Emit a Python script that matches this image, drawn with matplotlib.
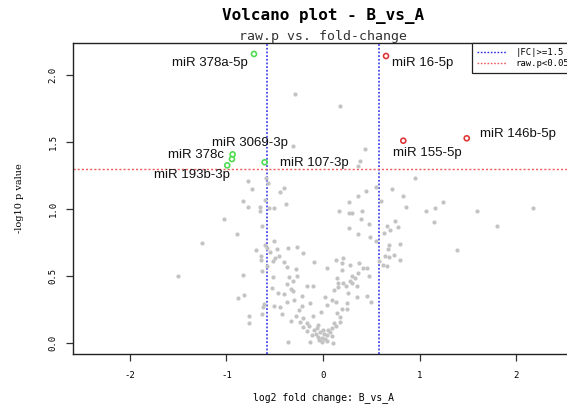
import numpy as np
import matplotlib
matplotlib.use('Agg')
import matplotlib.pyplot as plt
from matplotlib.lines import Line2D

fc_cut = 1.5
p_cut = 0.05

# miRNAs passing both cut-offs
mirnas = ["miR 378a-5p", "miR 16-5p", "miR 146b-5p", "miR 155-5p",
          "miR 3069-3p", "miR 378c", "miR 193b-3p", "miR 107-3p"]
sig_log2fc = [-0.715, 0.653, 1.489, 0.832, -0.936, -0.943, -0.992, -0.604]
sig_logp = [2.157, 2.142, 1.528, 1.510, 1.408, 1.373, 1.326, 1.349]

# remaining miRNAs
log2fc = [-0.29, 0.18, -0.31, 0.435, 0.383, 0.363, 0.953, 0.549, 0.446, 0.358,
          0.269, 0.596, 0.718, 0.824, 0.86, 1.062, 1.16, 1.24, 1.15, 1.593,
          1.803, 2.173, 1.392, 0.169, 0.273, 0.304, 0.407, 0.394, 0.266, 0.472,
          0.36, 0.484, 0.552, 0.66, 0.694, 0.751, 0.78, 0.635, 0.798, 0.684,
          0.677, 0.736, 0.642, 0.679, 0.798, 0.585, 0.625, 0.66,
          -0.774, -0.738, -0.826, -0.772, -0.656, -0.648, -0.596, -0.567, -0.59, -0.448,
          -0.399, -0.383, -0.508, -0.563, -1.029, -0.894, -0.635, -1.254, -0.697, -0.642,
          -0.642, -0.596, -0.575, -0.506, -0.472, -0.36, -0.272, -0.209, -0.549, -0.497,
          -0.513, -0.404, -0.459, -0.583, -0.629, -0.376, -0.098, 0.132, 0.21, 0.376,
          0.28, 0.194, -1.503, -0.826, -0.521, -0.283, -0.349, -0.273, -0.308, -0.376,
          -0.328, -0.525, -0.463, -0.404, -0.308, -0.221, -0.163, -0.107, -0.373, -0.297,
          -0.218, -0.135, -0.252, -0.28, -0.21, -0.169, -0.142, -0.101, -0.335, -0.428,
          -0.446, -0.608, -0.619, -0.505, -0.878, -0.816, -0.635, -0.77, -0.77, -0.36,
          -0.135, -0.073, -0.049, -0.013, 0.021, 0.038, 0.073, 0.09, 0.107, 0.117,
          0.142, 0.176, 0.194, 0.246, 0.252, 0.262, 0.238, 0.297, 0.355, 0.349,
          0.453, 0.497, 0.332, 0.297, 0.366, 0.418, 0.459, 0.48, 0.142, 0.159,
          0.21, 0.152, 0.117, 0.09, 0.135, 0.038, 0.194, 0.28, 0.021, 0.038,
          -0.024, -0.049, 0.003, -0.093, -0.062, -0.031, 0.01, 0.052, -0.01, -0.041,
          0.041, -0.114, -0.166, -0.207, -0.238, 0.093, 0.135, 0.176]
logp = [1.856, 1.766, 1.47, 1.45, 1.36, 1.32, 1.235, 1.164, 1.134, 1.10,
        1.05, 1.062, 1.147, 1.10, 1.017, 0.987, 1.005, 1.054, 0.905, 0.987,
        0.873, 1.005, 0.692, 0.983, 0.972, 0.968, 0.983, 0.923, 0.862, 0.886,
        0.817, 0.79, 0.761, 0.877, 0.846, 0.913, 0.864, 0.823, 0.739, 0.731,
        0.70, 0.657, 0.647, 0.64, 0.622, 0.612, 0.584, 0.577,
        1.209, 1.146, 1.063, 1.017, 1.016, 0.985, 1.071, 1.192, 1.228, 1.128,
        1.16, 1.035, 1.005, 1.005, 0.925, 0.817, 0.873, 0.746, 0.692, 0.649,
        0.616, 0.728, 0.709, 0.761, 0.701, 0.707, 0.715, 0.669, 0.677, 0.637,
        0.61, 0.601, 0.649, 0.575, 0.54, 0.569, 0.601, 0.619, 0.632, 0.595,
        0.582, 0.599, 0.50, 0.505, 0.49, 0.55, 0.49, 0.50, 0.465, 0.44,
        0.40, 0.408, 0.375, 0.366, 0.388, 0.351, 0.425, 0.425, 0.308, 0.321,
        0.276, 0.301, 0.246, 0.201, 0.184, 0.151, 0.127, 0.204, 0.164, 0.214,
        0.271, 0.291, 0.271, 0.278, 0.334, 0.358, 0.214, 0.201, 0.151, 0.005,
        0.005, 0.067, 0.047, 0.035, 0.028, 0.06, 0.084, 0.11, 0.002, 0.147,
        0.226, 0.196, 0.251, 0.251, 0.301, 0.371, 0.425, 0.446, 0.425, 0.346,
        0.353, 0.308, 0.487, 0.50, 0.525, 0.557, 0.562, 0.502, 0.483, 0.446,
        0.45, 0.42, 0.396, 0.321, 0.308, 0.557, 0.545, 0.465, 0.346, 0.284,
        0.234, 0.134, 0.097, 0.097, 0.112, 0.082, 0.067, 0.097, 0.007, 0.022,
        0.015, 0.06, 0.09, 0.119, 0.157, 0.052, 0.127, 0.157]

# label offsets (pixels) from each significant point
label_dx = [-44, 37, 51, 24, 17, -36, -35, 50]
label_dy = [-9.5, -7, 4, -12.5, 11.5, 4, -10, -1]

mono = 'DejaVu Sans Mono'
fc_line = np.log2(fc_cut)
p_line = -np.log10(p_cut)

fig = plt.figure(figsize=(5.67, 4.05), dpi=100)
ax = fig.add_axes([0.1287, 0.1259, 0.8836, 0.7679])

ax.scatter(log2fc, logp, s=9, color='#c3c3c3', linewidths=0, zorder=2)

sx = np.array(sig_log2fc)
colors = np.where(sx >= fc_line, '#e03838', '#50dc50')
ax.scatter(sig_log2fc, sig_logp, s=13, facecolors='none', edgecolors=colors,
           linewidths=1.2, zorder=3)

for name, x, y, dx, dy in zip(mirnas, sig_log2fc, sig_logp, label_dx, label_dy):
    ax.annotate(name, (x, y), xytext=(dx, dy), textcoords='offset pixels',
                ha='center', va='center', fontsize=9.5, family='Liberation Sans',
                color='#111111', zorder=4)

ax.axvline(-fc_line, color='#2a2ae8', ls=(0, (1.2, 1.2)), lw=1.1, zorder=1)
ax.axvline(fc_line, color='#2a2ae8', ls=(0, (1.2, 1.2)), lw=1.1, zorder=1)
ax.axhline(p_line, color='#f05a5a', ls=(0, (1.5, 1.5)), lw=1.0, zorder=1)

ax.set_xlim(-2.59, 2.60)
ax.set_ylim(-0.082, 2.239)
ax.set_xticks([-2, -1, 0, 1, 2])
ax.set_yticks([0.0, 0.5, 1.0, 1.5, 2.0])
ax.set_xticklabels(['-2', '-1', '0', '1', '2'], family=mono, fontsize=6.5)
ax.set_yticklabels(['0.0', '0.5', '1.0', '1.5', '2.0'], family=mono, fontsize=6.5,
                   rotation=90, va='center')
ax.tick_params(length=5, width=0.9, color='#333333', pad=7)
ax.tick_params(axis='y', pad=6)
for sp in ax.spines.values():
    sp.set_linewidth(1.0)
    sp.set_color('#222222')

ax.set_xlabel('log2 fold change: B_vs_A', family=mono, fontsize=7, labelpad=9)
ax.set_ylabel('-log10 p value', family='DejaVu Serif', fontsize=7, labelpad=18)

fig.text(0.569, 0.96, 'Volcano plot - B_vs_A', family=mono, fontweight='bold',
         fontsize=11.5, ha='center', va='center')
fig.text(0.569, 0.909, 'raw.p vs. fold-change', family=mono, fontsize=9.5,
         ha='center', va='center', color='#333333')

handles = [Line2D([], [], color='#2a2ae8', ls=(0, (1.2, 1.2)), lw=1.0),
           Line2D([], [], color='#f05a5a', ls=(0, (1.2, 1.2)), lw=1.0)]
leg = ax.legend(handles, ['|FC|>=1.5', 'raw.p<0.05'], loc='upper right',
                borderaxespad=0, fancybox=False, edgecolor='#222222',
                framealpha=1, prop={'family': mono, 'size': 6.5},
                handlelength=3.2, handletextpad=1.0, borderpad=0.55,
                labelspacing=0.25)
leg.get_frame().set_linewidth(0.9)

fig.savefig('out.png', dpi=100)
